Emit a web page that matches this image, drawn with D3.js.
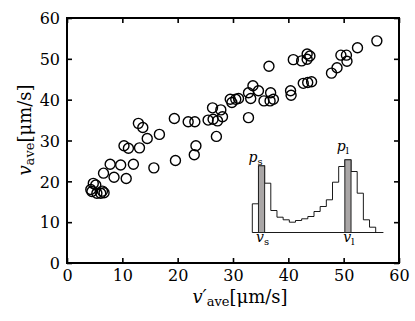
<!DOCTYPE html>
<html><head><meta charset="utf-8">
<script src="https://cdn.jsdelivr.net/npm/d3@7"></script>
<style>body{margin:0;background:#fff}svg{display:block}text{font-family:"DejaVu Serif","Liberation Serif",serif;fill:#000}</style>
</head><body><svg id="c" width="415" height="321"></svg>
<script>
const xTicks=[0,10,20,30,40,50,60];
const yTicks=[0,10,20,30,40,50,60];
const xVals=[4.3,4.75,5.2,4.5,5.4,6.1,6.7,6.4,6.6,7.8,8.5,9.7,10.7,12.0,10.3,11.1,13.1,14.5,16.7,12.9,13.7,15.7,19.4,19.6,21.9,23.1,23.0,23.3,25.5,26.3,27.8,26.4,27.2,28.1,27.0,29.5,29.8,30.5,31.0,32.8,33.2,33.6,34.6,32.8,36.5,36.8,35.6,36.7,37.3,40.4,40.5,42.7,43.5,44.2,40.9,42.4,43.4,43.9,43.4,47.8,48.8,49.5,50.5,50.6,52.5,56.0];
const yVals=[18.0,19.5,19.1,17.5,17.1,17.1,17.2,17.6,22.0,24.2,21.0,24.0,20.7,24.2,28.7,28.1,28.2,30.5,31.5,34.2,33.2,23.3,35.4,25.1,34.6,34.6,26.5,28.7,35.0,38.0,37.5,35.2,34.8,35.8,31.0,40.1,39.3,40.1,40.3,41.7,40.3,43.4,42.2,35.6,48.2,41.7,39.7,39.7,40.1,42.2,41.1,44.0,44.2,44.4,49.8,49.5,51.2,50.7,49.9,46.5,47.8,50.9,50.9,49.4,52.7,54.4];
// inset histogram (relative counts), gray bins marked
const histCounts=[28.7,66.7,49.3,22,15.3,12.7,10.3,12,13.7,16,21,26,32.7,50.3,66,72.7,61,39.3,12.7,5.3];
const grayBins=[1,15];

const svg=d3.select("#c");
const L=67,R=399,T=18,B=263;
const x=d3.scaleLinear().domain([0,60]).range([L,R]);
const y=d3.scaleLinear().domain([0,60]).range([B,T]);

const tl=5;
svg.append("g").attr("transform",`translate(0,${B})`).call(d3.axisBottom(x).tickValues(xTicks).tickSizeInner(-tl).tickSizeOuter(0).tickPadding(6))
 .call(g=>{g.select(".domain").remove();g.selectAll("line").attr("stroke-width",1.6);g.selectAll("text").attr("font-size",16).attr("dy","0.75em");});
svg.append("g").attr("transform",`translate(0,${T})`).call(d3.axisTop(x).tickValues(xTicks).tickSizeInner(-tl).tickSizeOuter(0).tickFormat(""))
 .call(g=>{g.select(".domain").remove();g.selectAll("line").attr("stroke-width",1.6);});
svg.append("g").attr("transform",`translate(${L},0)`).call(d3.axisLeft(y).tickValues(yTicks).tickSizeInner(-tl).tickSizeOuter(0).tickPadding(7))
 .call(g=>{g.select(".domain").remove();g.selectAll("line").attr("stroke-width",1.6);g.selectAll("text").attr("font-size",16).attr("dy","0.36em");});
svg.append("g").attr("transform",`translate(${R},0)`).call(d3.axisRight(y).tickValues(yTicks).tickSizeInner(-tl).tickSizeOuter(0).tickFormat(""))
 .call(g=>{g.select(".domain").remove();g.selectAll("line").attr("stroke-width",1.6);});
svg.append("rect").attr("x",L).attr("y",T).attr("width",R-L).attr("height",B-T).attr("fill","none").attr("stroke","#000").attr("stroke-width",2);

svg.append("g").selectAll("circle").data(xVals.map((v,i)=>[v,yVals[i]])).join("circle")
 .attr("cx",d=>x(d[0])).attr("cy",d=>y(d[1])).attr("r",5).attr("fill","none").attr("stroke","#000").attr("stroke-width",1.4);

// inset
const ix=d3.scaleLinear().domain([0,20]).range([252.3,375.7]);
const iy=d3.scaleLinear().domain([0,80]).range([232.5,152.5]);
const ins=svg.append("g");
let p=`M${ix(0)},${iy(0)}`;
histCounts.forEach((c,i)=>{p+=`L${ix(i)},${iy(c)}L${ix(i+1)},${iy(c)}`;});
p+=`L${ix(20)},${iy(0)}`;
ins.append("path").attr("d",p).attr("fill","none").attr("stroke","#000").attr("stroke-width",0.9);
ins.append("line").attr("x1",ix(0)).attr("x2",ix(21.25)).attr("y1",iy(0)).attr("y2",iy(0)).attr("stroke","#000").attr("stroke-width",0.9);
ins.selectAll("rect").data(grayBins).join("rect")
 .attr("x",i=>ix(i)).attr("y",i=>iy(histCounts[i])).attr("width",i=>ix(i+1)-ix(i)).attr("height",i=>iy(0)-iy(histCounts[i]))
 .attr("fill","#a9a6a6").attr("stroke","#222").attr("stroke-width",1);
function lab(xp,yp,main,sub){
 const t=ins.append("text").attr("x",xp).attr("y",yp).attr("text-anchor","middle").attr("font-size",14);
 t.append("tspan").attr("font-style","italic").text(main);
 t.append("tspan").attr("font-size",10).attr("dy",3).text(sub);
}
lab(ix(1)-3,iy(histCounts[1])-4,"p","s");
lab(ix(1.5)+1,242,"v","s");
lab(ix(15.5)-5,iy(histCounts[15])-9,"p","l");
lab(ix(15.5)+1,242,"v","l");

// axis labels
const xl=svg.append("text").attr("x",240).attr("y",303).attr("text-anchor","middle").attr("font-size",18);
xl.append("tspan").attr("font-style","italic").text("v′");
xl.append("tspan").attr("font-size",13).attr("dy",3).text("ave");
xl.append("tspan").attr("dy",-3).text("[μm/s]");
const yl=svg.append("text").attr("transform","translate(31,130) rotate(-90)").attr("text-anchor","middle").attr("font-size",18);
yl.append("tspan").attr("font-style","italic").text("v");
yl.append("tspan").attr("font-size",13).attr("dy",3).text("ave");
yl.append("tspan").attr("dy",-3).text("[μm/s]");
</script></body></html>
